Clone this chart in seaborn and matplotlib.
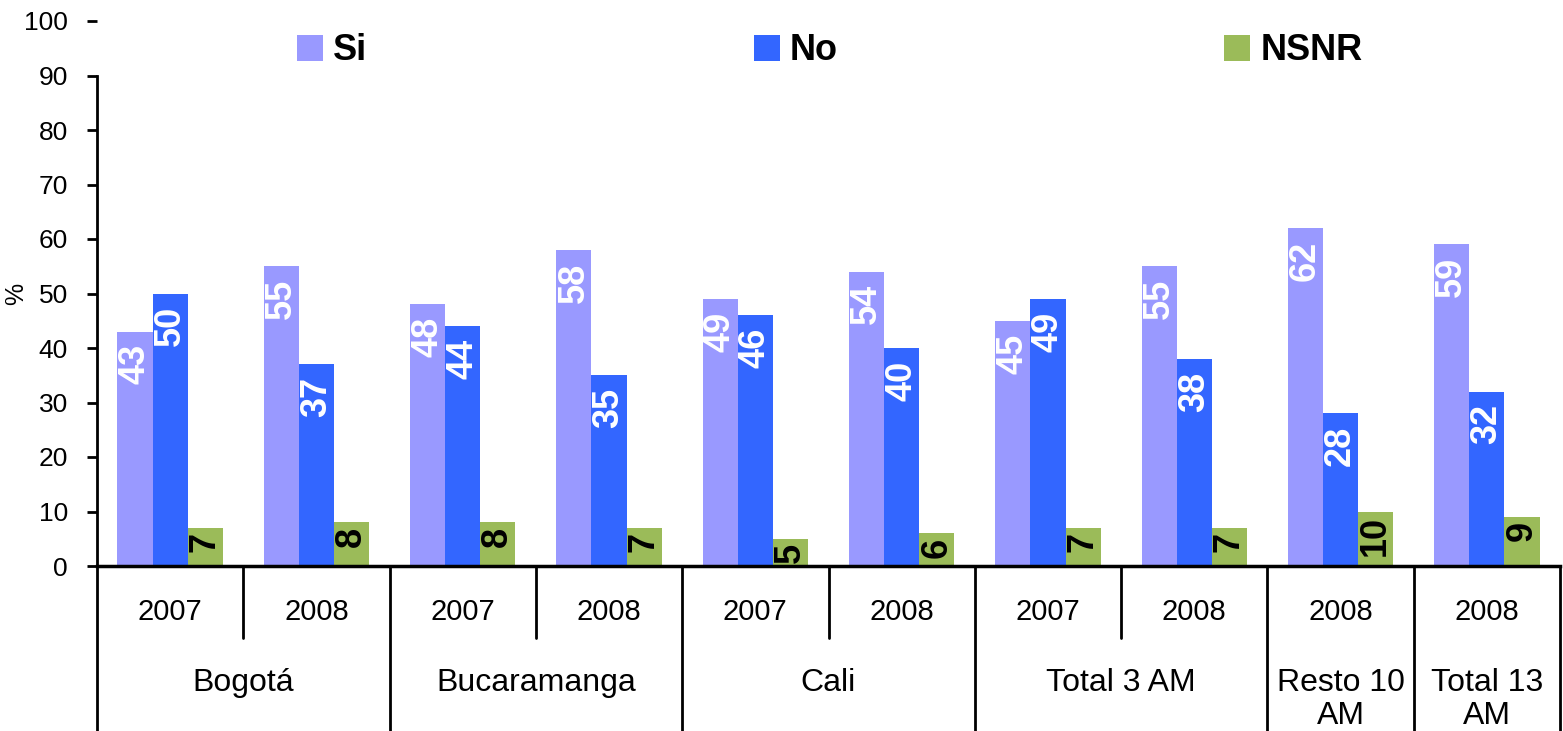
import pandas as pd
import numpy as np
import matplotlib.pyplot as plt
import matplotlib.transforms as mtrans
from matplotlib.patches import Patch
import seaborn as sns

# ── data ────────────────────────────────────────────────────
cities = ["Bogotá", "Bucaramanga", "Cali", "Total 3 AM", "Resto 10\nAM", "Total 13\nAM"]
city_groups = [2, 2, 2, 2, 1, 1]          # how many years under each city
years = ["2007", "2008", "2007", "2008", "2007", "2008", "2007", "2008", "2008", "2008"]
si = [43, 55, 48, 58, 49, 54, 45, 55, 62, 59]
no = [50, 37, 44, 35, 46, 40, 49, 38, 28, 32]
nsnr = [7, 8, 8, 7, 5, 6, 7, 7, 10, 9]
series = ["Si", "No", "NSNR"]
colors = ["#9999FF", "#3366FF", "#9BBB59"]
label_colors = ["white", "white", "black"]
label_offsets = [-9, -9, -3]

keys = [f"g{i}" for i in range(len(years))]
df = pd.DataFrame({
    "grupo": keys * 3,
    "serie": np.repeat(series, len(keys)),
    "valor": si + no + nsnr,
})

sns.set_style("white")
plt.rcParams["font.family"] = ["Liberation Sans", "DejaVu Sans"]
for k in ["text.color", "axes.labelcolor", "xtick.color", "ytick.color", "axes.edgecolor"]:
    plt.rcParams[k] = "black"

fig = plt.figure(figsize=(15.63, 7.31), dpi=100)
ax = fig.add_axes([97 / 1563, 165 / 731, 1463 / 1563, 545 / 731])

sns.barplot(data=df, x="grupo", y="valor", hue="serie", order=keys,
            hue_order=series, palette=colors, width=0.72, saturation=1,
            linewidth=0, ax=ax, legend=False)

# value labels, rotated, inside the top of each bar
for cont, lc, off in zip(ax.containers, label_colors, label_offsets):
    for bar in cont:
        h = bar.get_height()
        ax.annotate(f"{h:.0f}", (bar.get_x() + bar.get_width() / 2, h),
                    xytext=(0, off), textcoords="offset points",
                    ha="center", va="top", rotation=90, color=lc,
                    fontsize=26, fontweight="bold")

ax.set_xlim(-0.5, len(keys) - 0.5)
ax.set_ylim(0, 100)
ax.set_yticks(range(0, 101, 10))
ax.tick_params(axis="y", labelsize=19, length=7, width=2, pad=14, left=True)
ax.set_xticks([])
ax.set_xlabel("")
ax.set_ylabel("%", fontsize=18)
ax.yaxis.set_label_coords(-0.047, 0.5)

for s in ["top", "right"]:
    ax.spines[s].set_visible(False)
ax.spines["left"].set_linewidth(2)
ax.spines["left"].set_bounds(0, 90)
ax.spines["bottom"].set_linewidth(2.5)

# multi-level category axis
tr = mtrans.blended_transform_factory(ax.transData, ax.transAxes)
for i, y in enumerate(years):
    ax.text(i, -0.085, y, transform=tr, ha="center", va="center", fontsize=21)

pos = -0.5
ax.plot([pos, pos], [0, -0.35], transform=tr, color="black", lw=2, clip_on=False)
for city, n in zip(cities, city_groups):
    center = pos + n / 2
    ax.text(center, -0.188, city, transform=tr, ha="center", va="top",
            fontsize=23, linespacing=1.12)
    for k in range(1, n):
        ax.plot([pos + k, pos + k], [0, -0.133], transform=tr,
                color="black", lw=2, clip_on=False)
    pos += n
    ax.plot([pos, pos], [0, -0.35], transform=tr, color="black", lw=2, clip_on=False)

handles = [Patch(facecolor=c, edgecolor="none") for c in colors]
fig.legend(handles, series, loc="center left",
           bbox_to_anchor=(297 / 1563, 1 - 51 / 731), ncol=3, frameon=False,
           prop={"size": 26, "weight": "bold"}, handlelength=0.72,
           handleheight=0.72, handletextpad=0.28, columnspacing=10.7,
           borderpad=0, borderaxespad=0)

fig.savefig("out.png", dpi=100)
